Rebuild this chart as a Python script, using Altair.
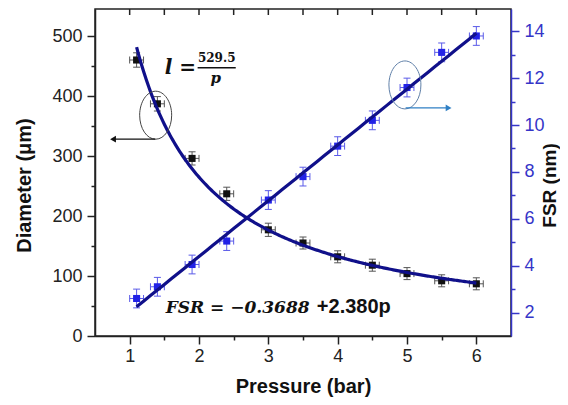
import altair as alt
import pandas as pd

# ---- data ----
pressure = [1.1, 1.4, 1.9, 2.4, 3.0, 3.5, 4.0, 4.5, 5.0, 5.5, 6.0]
diameter = [460, 387, 296, 237, 177, 155, 132, 118, 104, 92, 87]
diameter_err = [12, 12, 11, 11, 11, 10, 10, 10, 10, 10, 10]
fsr = [2.6, 3.1, 4.05, 5.05, 6.8, 7.8, 9.1, 10.2, 11.6, 13.1, 13.8]
fsr_err = [0.4, 0.4, 0.4, 0.4, 0.4, 0.4, 0.4, 0.4, 0.4, 0.4, 0.4]
pressure_err = [0.1, 0.1, 0.1, 0.1, 0.1, 0.1, 0.1, 0.1, 0.1, 0.1, 0.1]

# fitted models as printed on the chart
fit_k = 529.5          # l = 529.5 / p
fit_a, fit_b = -0.3688, 2.380   # FSR = a + b p
fit_start, fit_end = 1.1, 6.0

x_ticks = [1, 1.5, 2, 2.5, 3, 3.5, 4, 4.5, 5, 5.5, 6]
yl_ticks = [0, 50, 100, 150, 200, 250, 300, 350, 400, 450, 500]
yr_ticks = [2, 3, 4, 5, 6, 7, 8, 9, 10, 11, 12, 13, 14]

# annotation anchors (data units)
ell_left = {"p": [1.375], "v": [368]}
arrow_left = {"p": [0.76], "p2": [1.37], "v": [328]}
ell_right = {"p": [4.97], "v": [11.71]}
arrow_right = {"p": [4.98], "p2": [5.6], "v": [10.73]}

df = pd.DataFrame({
    "p": pressure, "d": diameter, "de": diameter_err,
    "f": fsr, "fe": fsr_err, "pe": pressure_err,
})
df["plo"] = df.p - df.pe
df["phi"] = df.p + df.pe
df["dlo"] = df.d - df.de
df["dhi"] = df.d + df.de
df["flo"] = df.f - df.fe
df["fhi"] = df.f + df.fe

NAVY = "#10108a"
BLUE = "#2222e6"
BLUE_AX = "#3535c8"
FONT = "Liberation Sans"
SERIF = "DejaVu Serif"

xscale = alt.Scale(domain=[0.5, 6.5], nice=False, zero=False)
ylscale = alt.Scale(domain=[0, 545], nice=False)
yrscale = alt.Scale(domain=[1, 14.95], nice=False, zero=False)

xaxis = alt.Axis(
    title="Pressure (bar)", values=x_ticks,
    labelExpr="datum.value % 1 === 0 ? format(datum.value, 'd') : ''",
    tickSize={"condition": {"test": "datum.value % 1 === 0", "value": 8}, "value": 4},
    labelPadding=3, labelFontSize=18, labelFont=FONT, labelColor="#222",
    titleFontSize=20, titleFont=FONT, titleFontWeight="bold", titleColor="#111",
    titleBaseline="alphabetic", titleY=56, titleX=208,
    domainColor="#222", tickColor="#222", domainWidth=1.5, tickWidth=1.5,
    grid=False, labelOverlap=False, labelFlush=False,
)
ylaxis = alt.Axis(
    title="Diameter (μm)", values=yl_ticks, orient="left",
    labelExpr="datum.value % 100 === 0 ? format(datum.value, 'd') : ''",
    tickSize={"condition": {"test": "datum.value % 100 === 0", "value": 8}, "value": 4},
    labelPadding=5, labelFontSize=18, labelFont=FONT, labelColor="#222",
    titleFontSize=20, titleFont=FONT, titleFontWeight="bold", titleColor="#111",
    titleBaseline="middle", titleX=-71, titleY=176, titleAngle=270,
    domainColor="#222", tickColor="#222", domainWidth=1.5, tickWidth=1.5,
    grid=False, labelOverlap=False, labelFlush=False,
)
yraxis = alt.Axis(
    title="FSR (nm)", values=yr_ticks, orient="right",
    labelExpr="datum.value % 2 === 0 ? format(datum.value, 'd') : ''",
    tickSize={"condition": {"test": "datum.value % 2 === 0", "value": 8}, "value": 4},
    labelPadding=5, labelFontSize=18, labelFont=FONT, labelColor=BLUE_AX,
    titleFontSize=19, titleFont=FONT, titleFontWeight="bold", titleColor="#111",
    titleBaseline="middle", titleX=38, titleY=176, titleAngle=270,
    domainColor=BLUE_AX, tickColor=BLUE_AX, domainWidth=1.5, tickWidth=1.5,
    grid=False, labelOverlap=False, labelFlush=False,
)


def XX(f):
    return alt.X(f, scale=xscale, axis=xaxis)


def YL(f):
    return alt.Y(f, scale=ylscale, axis=ylaxis)


def YR(f):
    return alt.Y(f, scale=yrscale, axis=yraxis)


base = alt.Chart(df)

ELLIPSE = "M0,-1.5A1,1.5,0,1,1,0,1.5A1,1.5,0,1,1,0,-1.5Z"
HCAP = "M-1,0L1,0"
VCAP = "M0,-1L0,1"


def errorbars(val, lo, hi, Y, col):
    return [
        base.mark_rule(color=col, strokeWidth=1).encode(x=XX("p:Q"), y=Y(f"{lo}:Q"), y2=f"{hi}:Q"),
        base.mark_rule(color=col, strokeWidth=1).encode(x=XX("plo:Q"), x2="phi:Q", y=Y(f"{val}:Q")),
        base.mark_point(shape=HCAP, size=49, color=col, strokeWidth=1, filled=False, opacity=1).encode(x=XX("p:Q"), y=Y(f"{hi}:Q")),
        base.mark_point(shape=HCAP, size=49, color=col, strokeWidth=1, filled=False, opacity=1).encode(x=XX("p:Q"), y=Y(f"{lo}:Q")),
        base.mark_point(shape=VCAP, size=49, color=col, strokeWidth=1, filled=False, opacity=1).encode(x=XX("plo:Q"), y=Y(f"{val}:Q")),
        base.mark_point(shape=VCAP, size=49, color=col, strokeWidth=1, filled=False, opacity=1).encode(x=XX("phi:Q"), y=Y(f"{val}:Q")),
    ]


# ---------- left (diameter) layer ----------
d_pts = base.mark_square(size=50, color="#111", opacity=1).encode(x=XX("p:Q"), y=YL("d:Q"))

d_fit = (
    alt.Chart(alt.sequence(fit_start, fit_end + 0.001, 0.02, as_="p"))
    .transform_calculate(d=f"{fit_k} / datum.p")
    .mark_line(color=NAVY, strokeWidth=3.2)
    .encode(x=XX("p:Q"), y=YL("d:Q"))
)

top_ticks = (
    alt.Chart(pd.DataFrame({"p": x_ticks}))
    .mark_rule(color="#222", strokeWidth=1.5)
    .encode(x=XX("p:Q"), y=alt.value(0), y2=alt.value(6))
)

e_left = (
    alt.Chart(pd.DataFrame(ell_left))
    .mark_point(shape=ELLIPSE, size=1024, color="#444", strokeWidth=1, filled=False, opacity=1)
    .encode(x=XX("p:Q"), y=YL("v:Q"))
)
a_left_line = (
    alt.Chart(pd.DataFrame(arrow_left))
    .mark_rule(color="#111", strokeWidth=1.2)
    .encode(x=XX("p:Q"), x2="p2:Q", y=YL("v:Q"))
)
a_left_head = (
    alt.Chart(pd.DataFrame(arrow_left))
    .mark_point(shape="triangle-left", size=45, color="#111", filled=True, opacity=1)
    .encode(x=XX("p:Q"), y=YL("v:Q"))
)

eq1 = pd.DataFrame({"p": [1.505], "v": [437], "t": ["l ="]})
eq1_num = pd.DataFrame({"p": [2.255], "v": [457], "t": ["529.5"]})
eq1_den = pd.DataFrame({"p": [2.24], "v": [422], "t": ["p"]})
eq1_bar = pd.DataFrame({"p": [1.98], "p2": [2.53], "v": [447]})
eq2a = pd.DataFrame({"p": [1.52], "v": [38], "t": ["FSR = −0.3688"]})
eq2b = pd.DataFrame({"p": [3.7], "v": [38], "t": ["+2.380p"]})

t_l = alt.Chart(eq1).mark_text(font=SERIF, fontSize=20, fontWeight="bold", fontStyle="italic", align="left", baseline="alphabetic", color="#111").encode(x=XX("p:Q"), y=YL("v:Q"), text="t:N")
t_num = alt.Chart(eq1_num).mark_text(font=SERIF, fontSize=12, fontWeight="bold", align="center", baseline="alphabetic", color="#111").encode(x=XX("p:Q"), y=YL("v:Q"), text="t:N")
t_den = alt.Chart(eq1_den).mark_text(font=SERIF, fontSize=15, fontWeight="bold", fontStyle="italic", align="center", baseline="alphabetic", color="#111").encode(x=XX("p:Q"), y=YL("v:Q"), text="t:N")
t_bar = alt.Chart(eq1_bar).mark_rule(color="#111", strokeWidth=1.5).encode(x=XX("p:Q"), x2="p2:Q", y=YL("v:Q"))
t_eq2a = alt.Chart(eq2a).mark_text(font=SERIF, fontSize=17, fontWeight="bold", fontStyle="italic", align="left", baseline="alphabetic", color="#111").encode(x=XX("p:Q"), y=YL("v:Q"), text="t:N")
t_eq2b = alt.Chart(eq2b).mark_text(font=FONT, fontSize=20, fontWeight="bold", align="left", baseline="alphabetic", color="#111").encode(x=XX("p:Q"), y=YL("v:Q"), text="t:N")

left = alt.layer(
    *errorbars("d", "dlo", "dhi", YL, "#555"), d_pts, d_fit,
    top_ticks, e_left, a_left_line, a_left_head,
    t_l, t_num, t_den, t_bar, t_eq2a, t_eq2b,
)

# ---------- right (FSR) layer ----------
EB = "#5a5ae8"
f_pts = base.mark_square(size=50, color=BLUE, opacity=1).encode(x=XX("p:Q"), y=YR("f:Q"))

f_fit = (
    alt.Chart(alt.sequence(fit_start, fit_end + 0.001, 0.1, as_="p"))
    .transform_calculate(f=f"{fit_a} + {fit_b} * datum.p")
    .mark_line(color=NAVY, strokeWidth=3.2)
    .encode(x=XX("p:Q"), y=YR("f:Q"))
)

e_right = (
    alt.Chart(pd.DataFrame(ell_right))
    .mark_point(shape=ELLIPSE, size=1024, color="#5f7fa8", strokeWidth=1, filled=False, opacity=1)
    .encode(x=XX("p:Q"), y=YR("v:Q"))
)
a_right_line = (
    alt.Chart(pd.DataFrame(arrow_right))
    .mark_rule(color="#2f7fc4", strokeWidth=1.2)
    .encode(x=XX("p:Q"), x2="p2:Q", y=YR("v:Q"))
)
a_right_head = (
    alt.Chart(pd.DataFrame(arrow_right))
    .mark_point(shape="triangle-right", size=45, color="#2f7fc4", filled=True, opacity=1)
    .encode(x=XX("p2:Q"), y=YR("v:Q"))
)

right = alt.layer(
    *errorbars("f", "flo", "fhi", YR, EB), f_pts, f_fit,
    e_right, a_right_line, a_right_head,
)

chart = (
    alt.layer(left, right)
    .resolve_scale(y="independent")
    .properties(
        width=416, height=327,
        padding={"left": 87, "top": 1, "right": 49, "bottom": 61},
        autosize=alt.AutoSizeParams(type="none"),
        background="white",
    )
    .configure_view(stroke="#222", strokeWidth=1.5)
)

chart.save("out.html", embed_options={"renderer": "svg", "actions": False})
